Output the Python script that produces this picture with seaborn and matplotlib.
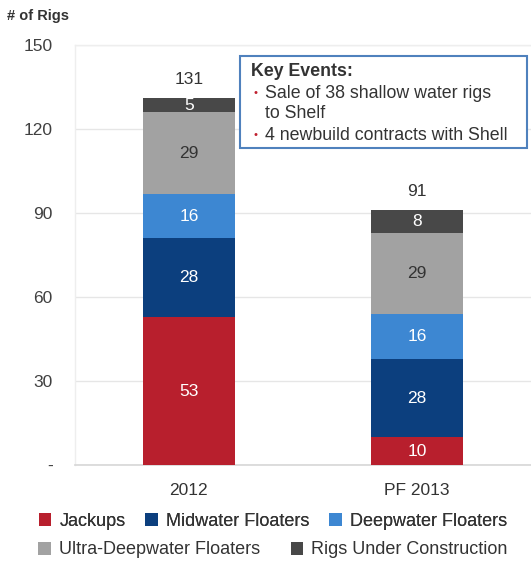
import matplotlib
matplotlib.use("Agg")
import matplotlib.pyplot as plt
from matplotlib.patches import Patch
import seaborn as sns
import pandas as pd
import numpy as np

categories = ["2012", "PF 2013"]
series = ["Jackups", "Midwater Floaters", "Deepwater Floaters",
          "Ultra-Deepwater Floaters", "Rigs Under Construction"]
jackups = [53, 10]
midwater = [28, 28]
deepwater = [16, 16]
ultra = [29, 29]
under_construction = [5, 8]
totals = [131, 91]
yticks = [0, 30, 60, 90, 120, 150]
ytick_labels = ["-", "30", "60", "90", "120", "150"]

colors = ["#B81F2D", "#0C3F7E", "#3D87D2", "#A2A2A2", "#484848"]
label_colors = ["white", "white", "white", "#333333", "white"]

sns.set_theme(style="white")
plt.rcParams["font.family"] = ["Liberation Sans", "DejaVu Sans"]

values = [jackups, midwater, deepwater, ultra, under_construction]
cum = np.cumsum(np.array(values), axis=0)

fig = plt.figure(figsize=(5.31, 5.66), dpi=100)
ax = fig.add_axes([0.141, 0.178, 0.859, 0.742])

# draw cumulative sums from top down so each layer overlays
for i in range(len(series) - 1, -1, -1):
    df = pd.DataFrame({"cat": categories, "val": cum[i]})
    sns.barplot(data=df, x="cat", y="val", color=colors[i], width=0.405,
                saturation=1, ax=ax, zorder=3, linewidth=0)

for i in range(len(series)):
    for j, cat in enumerate(categories):
        mid = cum[i][j] - values[i][j] / 2
        ax.text(j, mid, str(values[i][j]), ha="center", va="center",
                fontsize=12.5, color=label_colors[i], zorder=5)

for j, t in enumerate(totals):
    ax.text(j, t + 4, str(t), ha="center", va="bottom", fontsize=12.5,
            color="#333333")

ax.set_ylim(0, 150)
ax.set_xlim(-0.5, 1.5)
ax.set_yticks(yticks)
ax.set_yticklabels(ytick_labels)
ax.set_xlabel("")
ax.set_ylabel("")
ax.yaxis.grid(True, color="#E6E6E6", linewidth=1, zorder=0)
ax.tick_params(axis="y", length=0, pad=16, labelsize=12.5, labelcolor="#404040")
ax.tick_params(axis="x", length=0, pad=13, labelsize=12.5, labelcolor="#333333")
for s in ["top", "right", "left"]:
    ax.spines[s].set_color("#EEEEEE")
    ax.spines[s].set_linewidth(1)
ax.spines["right"].set_visible(False)
ax.spines["bottom"].set_color("#D8D8D8")

fig.text(0.013, 0.972, "# of Rigs", fontsize=10.5, fontweight="bold",
         color="#333333", ha="left", va="center")

# Key events box
box_ax_x0, box_ax_y0 = 240 / 531, 1 - 148 / 566
box_w, box_h = (527 - 240) / 531, (148 - 56) / 566
fig.patches.append(plt.Rectangle((box_ax_x0, box_ax_y0), box_w, box_h,
                                 transform=fig.transFigure, facecolor="white",
                                 edgecolor="#4F81BD", linewidth=1.5, zorder=10))
lines = [(71, "Key Events:", True, False), (93, "Sale of 38 shallow water rigs", False, True),
         (114, "to Shelf", False, False), (135, "4 newbuild contracts with Shell", False, True)]
for y, txt, bold, bullet in lines:
    yf = 1 - y / 566
    if bold:
        fig.text(251 / 531, yf, txt, fontsize=12.8, fontweight="bold", color="#333333",
                 va="center", ha="left", zorder=11)
    else:
        if bullet:
            fig.text(253 / 531, yf, "•", fontsize=8, color="#C0202F", va="center",
                     ha="left", zorder=11)
        fig.text(265 / 531, yf, txt, fontsize=12.8, color="#333333", va="center",
                 ha="left", zorder=11)

# Legends
handles = [Patch(facecolor=c, edgecolor="none") for c in colors]
leg1 = fig.legend(handles[:3], series[:3], ncol=3, loc="center",
                  bbox_to_anchor=(273 / 531, 1 - 521 / 566), frameon=False,
                  fontsize=13, handlelength=0.7, handleheight=0.7,
                  handletextpad=0.45, columnspacing=1.1, labelcolor="#333333")
leg2 = fig.legend(handles[3:], series[3:], ncol=2, loc="center",
                  bbox_to_anchor=(273 / 531, 1 - 550 / 566), frameon=False,
                  fontsize=13, handlelength=0.7, handleheight=0.7,
                  handletextpad=0.45, columnspacing=1.7, labelcolor="#333333")
fig.add_artist(leg1)

fig.savefig("out.png", dpi=100, facecolor="white")
